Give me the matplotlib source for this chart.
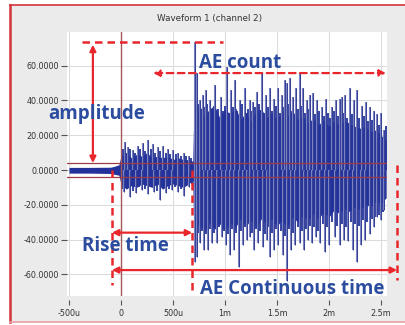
import matplotlib.pyplot as plt
from matplotlib.patches import Rectangle
from matplotlib.lines import Line2D

# time axis in microseconds, amplitude in waveform units
# dense core of the waveform (upper / lower edge)
t_core = [-500, -300, -100, -60, -20, 0, 50, 100, 150, 200, 250, 300, 350,
          400, 450, 500, 550, 600, 650, 690,
          700, 750, 800, 850, 900, 950, 1000, 1050, 1100, 1150, 1200, 1250,
          1300, 1350, 1400, 1450, 1500, 1550, 1600, 1650, 1700, 1750, 1800,
          1850, 1900, 1950, 2000, 2050, 2100, 2150, 2200, 2250, 2300, 2350,
          2400, 2450, 2500, 2550]
core_hi = [1.5, 1.5, 1.6, 2.2, 3.0, 8, 10, 7, 9, 8, 10, 7, 8,
           7, 8, 6, 7, 6, 6, 5,
           32, 38, 31, 35, 37, 30, 35, 32, 36, 29, 33, 28,
           34, 35, 30, 33, 29, 34, 31, 34, 29, 31, 27,
           30, 26, 29, 25, 28, 26, 28, 27, 25, 24, 25,
           22, 23, 20, 17]
core_lo = [-1.8, -1.8, -2.0, -2.5, -3, -8, -11, -9, -10, -8, -9, -10, -8,
           -11, -9, -8, -9, -10, -8, -6,
           -35, -31, -36, -30, -34, -31, -35, -30, -33, -28, -32, -29,
           -33, -28, -31, -28, -32, -29, -33, -27, -30, -26, -29,
           -25, -28, -24, -27, -23, -25, -22, -24, -21, -23, -20,
           -21, -18, -19, -16]

# tall peaks above the core
up_t = [38, 67, 115, 163, 212, 260, 308, 356, 404, 452, 500, 548, 606, 654,
        711, 731, 760, 788, 817, 856, 904, 962, 1019, 1058, 1096, 1144, 1192,
        1240, 1269, 1308, 1356, 1394, 1433, 1471, 1510, 1548, 1577, 1596, 1625,
        1654, 1683, 1721, 1750, 1788, 1817, 1846, 1885, 1933, 1971, 2029, 2067,
        2106, 2125, 2154, 2202, 2240, 2269, 2317, 2356, 2394, 2433, 2462, 2500, 2529]
up_v = [16, 13, 11.5, 14, 15.5, 17, 15, 13, 14, 12, 11.5, 10, 10, 8,
        73.5, 56, 40, 43, 46, 40, 49, 42, 59, 46, 52, 40, 47,
        40, 39, 45, 56, 43, 47, 41, 47, 43, 52, 50, 53,
        42, 47, 56, 47, 40, 43, 44, 40, 36, 41, 36, 40,
        41, 42, 43, 47, 40, 46, 37, 39, 36, 34, 32, 33, 23]
dn_t = [29, 87, 144, 202, 260, 317, 375, 433, 490, 548, 606, 654,
        711, 731, 760, 798, 837, 875, 923, 971, 1010, 1048, 1087, 1135, 1173,
        1211, 1240, 1279, 1317, 1365, 1404, 1433, 1471, 1510, 1558, 1596, 1635,
        1673, 1721, 1760, 1798, 1837, 1875, 1913, 1962, 2000, 2058, 2106, 2144,
        2183, 2231, 2269, 2308, 2346, 2394, 2433, 2462, 2500, 2529]
dn_v = [-12.6, -15.5, -13, -11.5, -14, -12.6, -17, -13, -11.5, -12.6, -15, -10,
        -53, -50, -42, -46, -46, -42, -42, -38.5, -43, -49, -46, -56, -43,
        -40, -38.5, -46, -42, -44, -40, -50, -46, -43, -49, -64, -46,
        -43, -42, -46, -40, -42, -38.5, -42, -47, -43, -38.5, -43, -40,
        -41, -46, -53, -43, -40, -37, -33, -27, -29, -23]

# medium peaks in between
mid_up_t = [15, 55, 90, 135, 185, 235, 285, 330, 380, 430, 475, 525, 575, 630, 675,
            745, 770, 800, 830, 870, 890, 935, 985, 1005, 1035, 1075, 1115, 1160,
            1210, 1225, 1255, 1290, 1330, 1375, 1415, 1450, 1490, 1530, 1565, 1610,
            1640, 1700, 1735, 1770, 1800, 1865, 1905, 1950, 1990, 2010, 2045, 2090,
            2140, 2175, 2220, 2285, 2335, 2375, 2415, 2480, 2545]
mid_up_v = [12, 10, 12, 10, 12, 11, 12, 10, 11, 10, 9, 9, 8, 8, 7,
            38, 35, 36, 38, 33, 37, 35, 34, 37, 33, 36, 34, 38,
            33, 35, 34, 36, 38, 33, 36, 34, 37, 33, 36, 38,
            34, 35, 37, 33, 35, 32, 34, 31, 33, 30, 34, 31,
            33, 30, 32, 30, 31, 28, 29, 26, 25]
mid_dn_t = [10, 60, 115, 170, 230, 290, 345, 405, 460, 520, 580, 630, 680,
            720, 745, 780, 815, 855, 895, 940, 990, 1025, 1065, 1110, 1155, 1190,
            1260, 1295, 1340, 1385, 1420, 1455, 1490, 1535, 1575, 1615, 1655, 1700,
            1740, 1780, 1820, 1855, 1895, 1940, 1980, 2030, 2080, 2125, 2165, 2210,
            2250, 2290, 2330, 2370, 2415, 2450, 2485, 2515]
mid_dn_v = [-11, -10, -12, -10, -11, -10, -12, -10, -11, -10, -11, -9, -8,
            -38, -36, -35, -37, -34, -36, -33, -35, -37, -34, -36, -35, -33,
            -36, -34, -35, -37, -33, -36, -34, -35, -38, -34, -36, -33,
            -35, -34, -32, -33, -35, -31, -33, -30, -32, -31, -33, -30,
            -31, -32, -29, -30, -28, -27, -26, -24]

x_ticks = [-500, 0, 500, 1000, 1500, 2000, 2500]
x_labels = ['-500u', '0', '500u', '1m', '1.5m', '2m', '2.5m']
y_ticks = [-60, -40, -20, 0, 20, 40, 60]

threshold = 4
peak_val = 73.5
rise_start = -87
peak_time = 685
end_time = 2655

red = '#e8262b'
blue_txt = '#2b4c9f'
wave = '#22329a'

fig = plt.figure(figsize=(4.06, 3.25), dpi=100)
fig.patch.set_facecolor('white')
fig.add_artist(Rectangle((10 / 406, 3 / 325), 2, 317 / 325,
                         transform=fig.transFigure, facecolor='#ebebeb',
                         edgecolor='none', zorder=-5))
fig.add_artist(Line2D([10 / 406, 10 / 406], [3 / 325, 1 - 5 / 325], color='#d3343a', lw=1.8))
fig.add_artist(Line2D([10 / 406, 1], [1 - 5 / 325, 1 - 5 / 325], color='#d3343a', lw=1.2))
fig.add_artist(Line2D([10 / 406, 1], [3 / 325, 3 / 325], color='#eaa0a4', lw=1.2))
fig.text(210 / 406, 1 - 19 / 325, 'Waveform 1 (channel 2)', ha='center',
         va='center', fontsize=6.3, color='#333333')

ax = fig.add_axes([67 / 406, 1 - 296 / 325, 320 / 406, 264 / 325])
ax.set_facecolor('white')
ax.set_xlim(-519, 2558)
ax.set_ylim(-72.4, 79.3)

# waveform
ax.fill_between(t_core, core_lo, core_hi, color=wave, lw=0, zorder=2)
ax.vlines(mid_up_t, 0, mid_up_v, color=wave, lw=1.3, zorder=2)
ax.vlines(mid_dn_t, 0, mid_dn_v, color=wave, lw=1.3, zorder=2)
for tt, vv in [(up_t, up_v), (dn_t, dn_v)]:
    ax.vlines(tt, 0, vv, color='#7a82bf', lw=1.5, zorder=2)
    ax.vlines(tt, 0, vv, color='#2a3690', lw=0.6, zorder=3)

# trigger / threshold lines
ax.axvline(0, color='#a45a5a', lw=1, zorder=4)
ax.axhline(threshold, color='#9c3c48', lw=0.9, zorder=4)
ax.axhline(-threshold, color='#9c3c48', lw=0.9, zorder=4)

ax.set_xticks(x_ticks)
ax.set_xticklabels(x_labels)
ax.set_yticks(y_ticks)
ax.set_yticklabels([f'{v:.4f}' for v in y_ticks])
ax.grid(True, color='#dcdcdc', lw=0.8, zorder=0)
ax.set_axisbelow(True)
for s in ax.spines.values():
    s.set_visible(False)
ax.spines['bottom'].set_position(('outward', 3))
ax.tick_params(axis='both', labelsize=5.8, labelcolor='#333333', color='#555555',
               width=0.8)
ax.tick_params(axis='x', length=3.5, pad=3)
ax.tick_params(axis='y', length=4.5, pad=1.5)

# annotations
ax.plot([-375, 985], [peak_val, peak_val], color=red, lw=1.8, ls=(0, (3, 2)),
        clip_on=False, zorder=6)


def arrow(x0, y0, x1, y1, ls='-'):
    ax.annotate('', xy=(x1, y1), xytext=(x0, y0), annotation_clip=False,
                arrowprops=dict(arrowstyle='<|-|>', color=red, lw=1.6, ls=ls,
                                mutation_scale=9, shrinkA=0, shrinkB=0),
                zorder=6)


arrow(-270, 72, -270, threshold)
arrow(309, 55.7, 2548, 55.7, ls=(0, (3, 2)))
arrow(rise_start, -36, peak_time, -36)
arrow(rise_start, -57.5, end_time, -57.5)

for x, y0, y1 in [(rise_start, 0, -66), (peak_time, 0, -70), (end_time, 3, -63)]:
    ax.plot([x, x], [y0, y1], color=red, lw=1.8, ls=(0, (3, 2)),
            clip_on=False, zorder=6)

txt = dict(color=blue_txt, fontsize=13.5, fontweight='bold', ha='center',
           va='center', family='Open Sans', zorder=7)
ax.text(-232, 32.0, 'amplitude', clip_on=False, **txt)
ax.text(1148, 61.5, 'AE count', **txt)
ax.text(39, -43.7, 'Rise time', **txt)
ax.text(1650, -68.4, 'AE Continuous time', clip_on=False, **txt)

fig.savefig('out.png', dpi=100)
